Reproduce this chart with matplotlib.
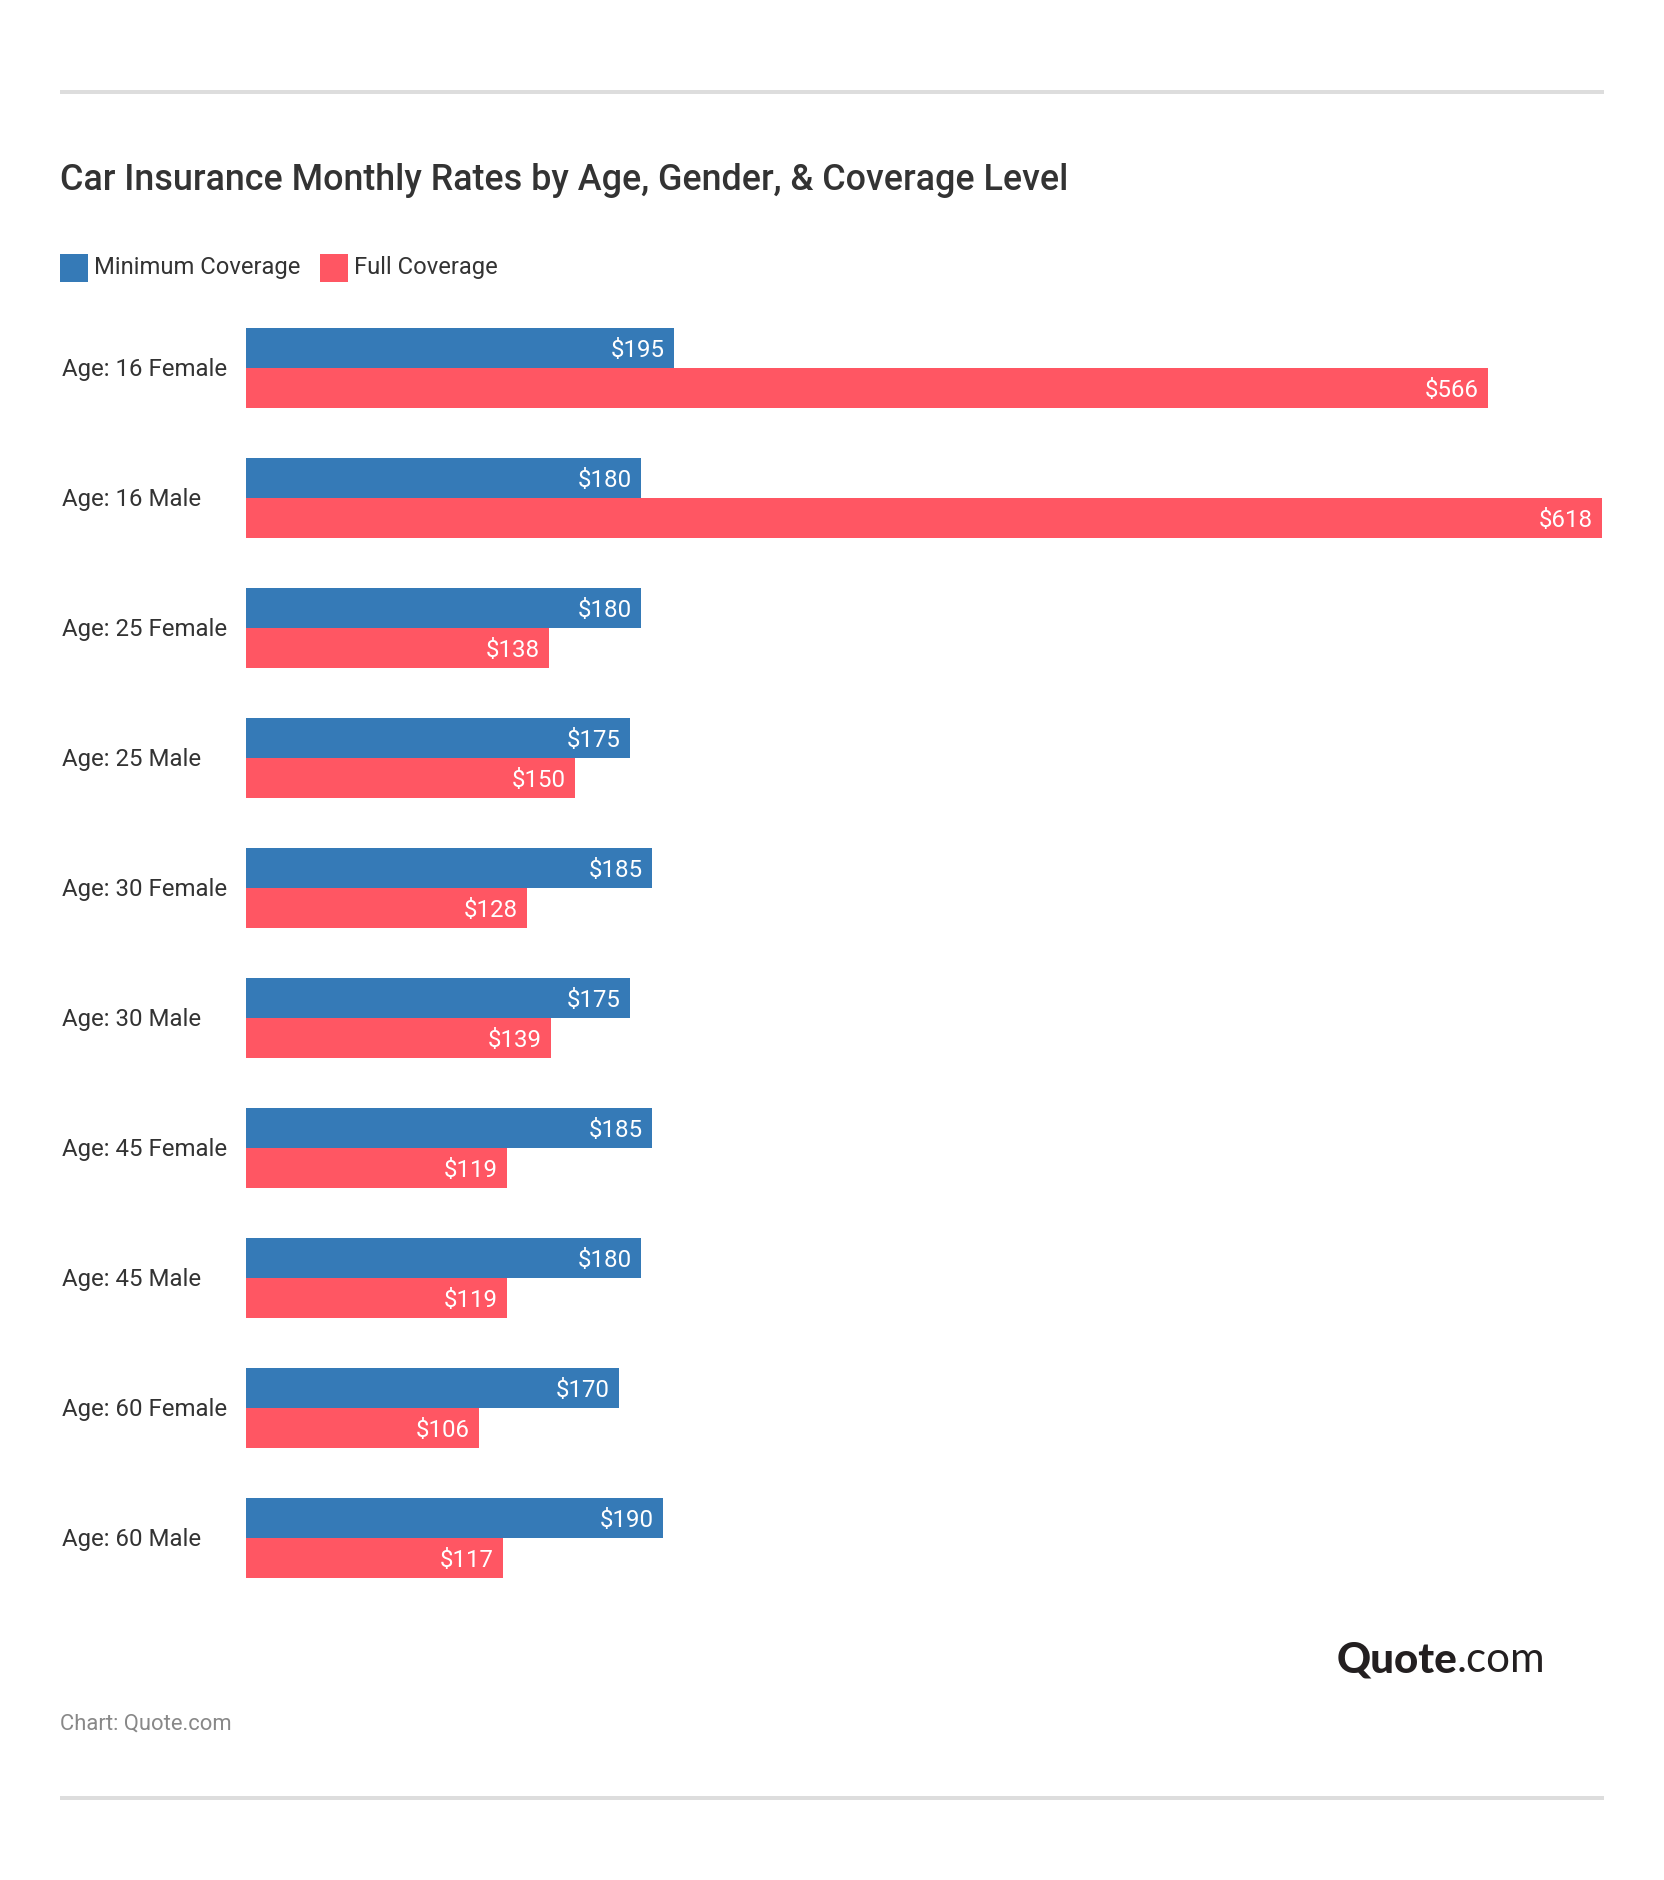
#!/usr/bin/env python3
# Car insurance monthly rates, horizontal grouped bars
import numpy as np
import matplotlib
matplotlib.use('Agg')
import matplotlib.pyplot as plt
from matplotlib.patches import Rectangle
from matplotlib.transforms import ScaledTranslation

# %% data
categories = ['Age: 16 Female', 'Age: 16 Male', 'Age: 25 Female', 'Age: 25 Male',
              'Age: 30 Female', 'Age: 30 Male', 'Age: 45 Female', 'Age: 45 Male',
              'Age: 60 Female', 'Age: 60 Male']
minimum_coverage = [195, 180, 180, 175, 185, 175, 185, 180, 170, 190]
full_coverage = [566, 618, 138, 150, 128, 139, 119, 119, 106, 117]

# %% figure, pixel helpers
W, H = 1664, 1880
plt.rcParams['font.family'] = 'Roboto'
fig = plt.figure(figsize=(W / 100, H / 100), dpi=100, facecolor='white')


def fx(px):
    return px / W


def fy(py):
    return 1 - py / H


BLUE = '#357ab7'
RED = '#ff5663'
DARK = '#333333'
FONT = 17.25

ax = fig.add_axes([fx(246), fy(1603), (1604 - 246) / W, 1300 / H])
y = np.arange(len(categories))
bar_h = 40 / 130

blue_bars = ax.barh(y - bar_h / 2, minimum_coverage, bar_h, color=BLUE, label='Minimum Coverage')
red_bars = ax.barh(y + bar_h / 2, full_coverage, bar_h, color=RED, label='Full Coverage')

for bars in (blue_bars, red_bars):
    # bar_label won't take ha, so flip it afterwards to sit inside the bar end
    labels = ax.bar_label(bars, fmt='${:.0f}', padding=-6.5, color='white', fontsize=FONT)
    for lab in labels:
        lab.set_ha('right')
        lab.set_va('center_baseline')

ax.set_xlim(0, 619)
ax.set_ylim(len(categories) - 0.5, -0.5)
ax.set_xticks([])
ax.set_yticks(y)
ax.set_yticklabels(categories, ha='left', color=DARK, fontsize=FONT)
ax.tick_params(axis='y', length=0, pad=132.5)
# category labels sit a touch above the bar centre
nudge = ScaledTranslation(0, 1.2 / 100, fig.dpi_scale_trans)
for lab in ax.get_yticklabels():
    lab.set_transform(lab.get_transform() + nudge)
for side in ax.spines:
    ax.spines[side].set_visible(False)

# legend sits above the axes
leg = fig.legend(loc='lower left', bbox_to_anchor=(fx(60), fy(282)), bbox_transform=fig.transFigure,
                 ncol=2, frameon=False, fontsize=17.15, labelcolor=DARK,
                 handlelength=1.176, handleheight=1.43, handletextpad=0.24,
                 columnspacing=0.84, borderpad=0, borderaxespad=0)
for txt in leg.get_texts():
    txt.set_position((0, 1.5))

# %% text around the chart
fig.text(fx(60), fy(190), 'Car Insurance Monthly Rates by Age, Gender, & Coverage Level',
         fontsize=25.85, fontweight='medium', color=DARK, va='baseline')
fig.text(fx(60), fy(1730), 'Chart: Quote.com', fontsize=15.8, color='#888888', va='baseline')
fig.text(fx(1337), fy(1672), 'Quote', family='Lato', fontweight='black', fontsize=30.3,
         color='#231f20', va='baseline')
fig.text(fx(1457), fy(1672), '.com', family='Lato', fontweight='normal', fontsize=30.3,
         color='#231f20', va='baseline')

# grey rules top and bottom
for top in (90, 1796):
    fig.add_artist(Rectangle((fx(60), fy(top + 4)), (1604 - 60) / W, 4 / H,
                             transform=fig.transFigure, color='#dddddd', lw=0))

fig.savefig('out.png', dpi=100)
